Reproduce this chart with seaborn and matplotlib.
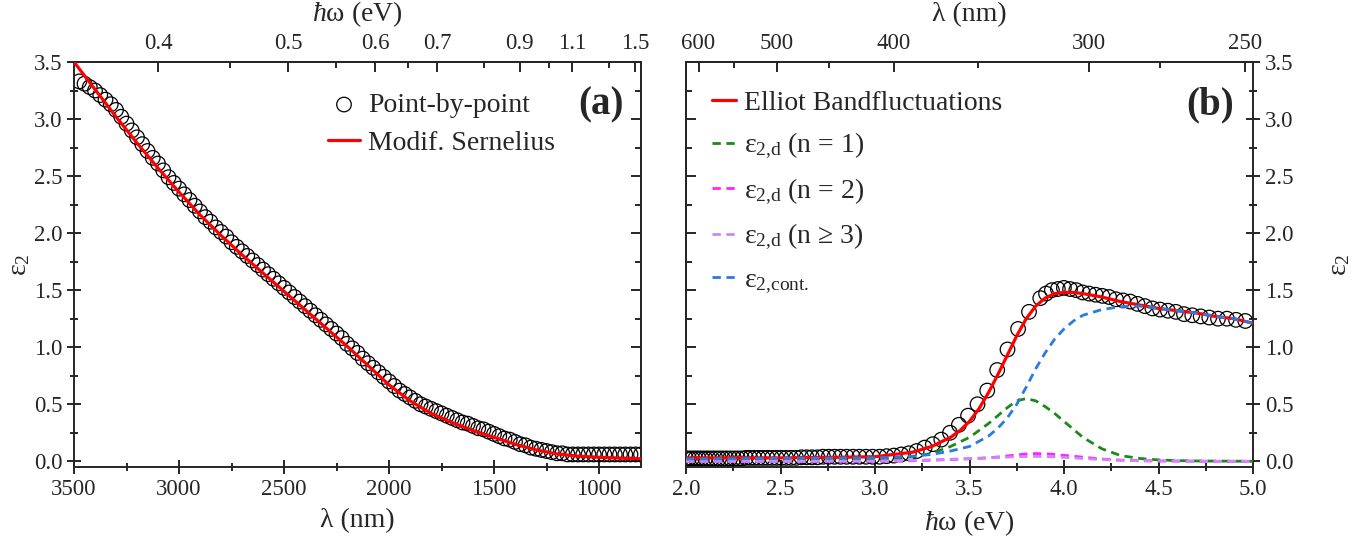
import numpy as np
import pandas as pd
import seaborn as sns
import matplotlib.pyplot as plt
from matplotlib.ticker import MultipleLocator, FixedLocator

# ---- panel (a): epsilon_2 vs wavelength ----
lam_pts = [3475, 3450, 3425, 3400, 3375, 3350, 3325, 3300, 3275, 3250,
           3225, 3200, 3175, 3150, 3125, 3100, 3075, 3050, 3025, 3000,
           2975, 2950, 2925, 2900, 2875, 2850, 2825, 2800, 2775, 2750,
           2725, 2700, 2675, 2650, 2625, 2600, 2575, 2550, 2525, 2500,
           2475, 2450, 2425, 2400, 2375, 2350, 2325, 2300, 2275, 2250,
           2225, 2200, 2175, 2150, 2125, 2100, 2075, 2050, 2025, 2000,
           1975, 1950, 1925, 1900, 1875, 1850, 1825, 1800, 1775, 1750,
           1725, 1700, 1675, 1650, 1625, 1600, 1575, 1550, 1525, 1500,
           1475, 1450, 1425, 1400, 1375, 1350, 1325, 1300, 1275, 1250,
           1225, 1200, 1175, 1150, 1125, 1100, 1075, 1050, 1025, 1000,
           975, 950, 925, 900, 875, 850, 825, 800]
eps_pts = [3.33, 3.31, 3.28, 3.25, 3.21, 3.17, 3.13, 3.08, 3.02, 2.96,
           2.90, 2.84, 2.78, 2.72, 2.66, 2.61, 2.55, 2.49, 2.44, 2.39,
           2.34, 2.29, 2.24, 2.19, 2.14, 2.10, 2.05, 2.01, 1.97, 1.92,
           1.88, 1.84, 1.80, 1.76, 1.72, 1.68, 1.64, 1.60, 1.56, 1.52,
           1.48, 1.44, 1.40, 1.36, 1.32, 1.28, 1.24, 1.20, 1.16, 1.12,
           1.08, 1.03, 0.99, 0.95, 0.90, 0.86, 0.82, 0.78, 0.74, 0.70,
           0.66, 0.62, 0.59, 0.56, 0.53, 0.50, 0.48, 0.46, 0.44, 0.42,
           0.40, 0.38, 0.36, 0.34, 0.33, 0.31, 0.29, 0.28, 0.26, 0.24,
           0.22, 0.20, 0.19, 0.17, 0.15, 0.14, 0.12, 0.11, 0.10, 0.09,
           0.08, 0.07, 0.07, 0.06, 0.06, 0.06, 0.06, 0.06, 0.06, 0.06,
           0.06, 0.06, 0.06, 0.06, 0.06, 0.06, 0.06, 0.06]

lam_fit = [3500, 3400, 3300, 3200, 3100, 3000, 2900, 2800, 2700, 2600,
           2500, 2400, 2300, 2200, 2100, 2000, 1900, 1800, 1700, 1600,
           1500, 1400, 1300, 1200, 1100, 1000, 900, 800]
eps_fit = [3.50, 3.26, 3.02, 2.79, 2.57, 2.36, 2.16, 1.98, 1.81, 1.65,
           1.49, 1.33, 1.17, 1.01, 0.84, 0.67, 0.53, 0.42, 0.34, 0.27,
           0.21, 0.15, 0.10, 0.065, 0.045, 0.035, 0.028, 0.022]

# ---- panel (b): epsilon_2 vs photon energy ----
wl_b = [620, 615, 610, 605, 600, 595, 590, 585, 580, 575,
        570, 565, 560, 555, 550, 545, 540, 535, 530, 525,
        520, 515, 510, 505, 500, 495, 490, 485, 480, 475,
        470, 465, 460, 455, 450, 445, 440, 435, 430, 425,
        420, 415, 410, 405, 400, 395, 390, 385, 380, 375,
        370, 365, 360, 355, 350, 345, 340, 335, 330, 325,
        320, 317.5, 315, 312.5, 310, 307.5, 305, 302.5, 300, 297.5,
        295, 292.5, 290, 287.5, 285, 282.5, 280, 277.5, 275, 272.5,
        270, 267.5, 265, 262.5, 260, 257.5, 255, 252.5, 250]
eps_b = [0.025, 0.025, 0.025, 0.025, 0.025, 0.025, 0.025, 0.025, 0.025, 0.025,
         0.025, 0.025, 0.025, 0.025, 0.025, 0.025, 0.025, 0.03, 0.03, 0.03,
         0.03, 0.03, 0.03, 0.03, 0.03, 0.03, 0.03, 0.03, 0.03, 0.035,
         0.035, 0.035, 0.035, 0.04, 0.04, 0.04, 0.04, 0.04, 0.04, 0.04,
         0.04, 0.04, 0.04, 0.045, 0.05, 0.06, 0.07, 0.09, 0.12, 0.15,
         0.19, 0.25, 0.32, 0.40, 0.50, 0.62, 0.80, 0.98, 1.16, 1.31,
         1.43, 1.47, 1.50, 1.51, 1.52, 1.51, 1.50, 1.48, 1.47, 1.46,
         1.45, 1.44, 1.42, 1.41, 1.40, 1.38, 1.36, 1.34, 1.33, 1.32,
         1.31, 1.29, 1.28, 1.27, 1.26, 1.25, 1.25, 1.24, 1.23]

E_fit = [2.0, 2.5, 2.8, 3.0, 3.1, 3.2, 3.3, 3.4, 3.45, 3.5,
         3.55, 3.6, 3.65, 3.7, 3.75, 3.8, 3.85, 3.9, 3.95, 4.0,
         4.05, 4.1, 4.2, 4.3, 4.4, 4.5, 4.6, 4.7, 4.8, 4.9, 5.0]
eps_elliot = [0.03, 0.03, 0.035, 0.04, 0.06, 0.08, 0.13, 0.21, 0.27, 0.35,
              0.46, 0.60, 0.76, 0.93, 1.10, 1.25, 1.36, 1.43, 1.47, 1.48,
              1.48, 1.47, 1.44, 1.40, 1.37, 1.34, 1.32, 1.30, 1.27, 1.25, 1.21]

E_comp = [2.0, 2.5, 3.0, 3.1, 3.2, 3.3, 3.4, 3.5, 3.6, 3.65,
          3.7, 3.75, 3.8, 3.85, 3.9, 3.95, 4.0, 4.05, 4.1, 4.2,
          4.3, 4.4, 4.5, 4.6, 4.7, 4.8, 4.9, 5.0]
eps_n1 = [0.0, 0.0, 0.01, 0.02, 0.04, 0.07, 0.13, 0.21, 0.33, 0.40,
          0.47, 0.53, 0.55, 0.53, 0.48, 0.42, 0.35, 0.28, 0.21, 0.11,
          0.05, 0.025, 0.012, 0.006, 0.003, 0.002, 0.001, 0.0]
eps_n2 = [0.0, 0.0, 0.0, 0.002, 0.005, 0.01, 0.015, 0.022, 0.03, 0.038,
          0.047, 0.056, 0.064, 0.068, 0.066, 0.06, 0.052, 0.044, 0.036, 0.02,
          0.01, 0.005, 0.003, 0.002, 0.001, 0.0, 0.0, 0.0]
eps_n3 = [0.0, 0.0, 0.002, 0.004, 0.008, 0.012, 0.018, 0.024, 0.03, 0.034,
          0.037, 0.04, 0.042, 0.043, 0.042, 0.039, 0.035, 0.03, 0.025, 0.015,
          0.009, 0.005, 0.003, 0.002, 0.001, 0.0, 0.0, 0.0]
eps_cont = [0.02, 0.025, 0.03, 0.035, 0.045, 0.06, 0.09, 0.13, 0.22, 0.29,
            0.38, 0.50, 0.65, 0.81, 0.95, 1.07, 1.16, 1.23, 1.28, 1.33,
            1.355, 1.36, 1.34, 1.32, 1.30, 1.27, 1.25, 1.21]

E_pts = [1239.84 / w for w in wl_b]


def conv(x):
    # eV <-> nm, same formula both ways
    x = np.asarray(x, dtype=float)
    with np.errstate(divide='ignore', invalid='ignore'):
        return 1239.84 / x


sns.set_style('ticks')
plt.rcParams['font.family'] = ['Liberation Serif', 'DejaVu Serif']
plt.rcParams['mathtext.fontset'] = 'custom'
plt.rcParams['mathtext.rm'] = 'Liberation Serif'
plt.rcParams['mathtext.it'] = 'Liberation Serif:italic'
plt.rcParams['mathtext.bf'] = 'Liberation Serif:bold'
plt.rcParams['axes.linewidth'] = 1.4

TS = 16.5   # tick label size
LS = 20     # axis label size

fig = plt.figure(figsize=(13.59, 5.37), dpi=100)
ax1 = fig.add_axes([74 / 1359, 1 - 467 / 537, 567 / 1359, 405 / 537])
ax2 = fig.add_axes([686 / 1359, 1 - 467 / 537, 567 / 1359, 405 / 537])

# ---------- (a) ----------
sns.scatterplot(x=lam_pts, y=eps_pts, ax=ax1, marker='o', s=110,
                facecolor='none', edgecolor='black', linewidth=0.9,
                label='Point-by-point', zorder=2)
sns.lineplot(x=lam_fit, y=eps_fit, ax=ax1, color='#ff0000', lw=2.3,
             label='Modif. Sernelius', zorder=3)

ax1.set_xlim(3500, 800)
ax1.set_ylim(-0.05, 3.5)
ax1.xaxis.set_major_locator(MultipleLocator(500))
ax1.xaxis.set_minor_locator(MultipleLocator(250))
ax1.yaxis.set_major_locator(MultipleLocator(0.5))
ax1.yaxis.set_minor_locator(MultipleLocator(0.25))
ax1.tick_params(which='both', direction='inout', width=1.4, labelsize=TS,
                top=False, right=False)
ax1.tick_params(which='major', length=10)
ax1.tick_params(which='minor', length=6)
ax1.set_xlabel('λ (nm)', fontsize=LS, labelpad=6)
ax1.set_ylabel(r'$\mathregular{ε_2}$', fontsize=LS, labelpad=1)

top1 = ax1.secondary_xaxis('top', functions=(conv, conv))
top1.set_xticks([0.4, 0.5, 0.6, 0.7, 0.9, 1.1, 1.5])
top1.set_xticklabels(['0.4', '0.5', '0.6', '0.7', '0.9', '1.1', '1.5'])
top1.xaxis.set_minor_locator(FixedLocator([0.45, 0.55, 0.65, 0.8, 1.0, 1.3]))
top1.tick_params(which='both', direction='in', width=1.4, labelsize=TS, pad=6)
top1.tick_params(which='major', length=7)
top1.tick_params(which='minor', length=4)
top1.set_xlabel(r'$\mathit{ħ}$ω (eV)', fontsize=LS, labelpad=8)

r1 = ax1.secondary_yaxis('right')
r1.yaxis.set_major_locator(MultipleLocator(0.5))
r1.yaxis.set_minor_locator(MultipleLocator(0.25))
r1.tick_params(which='both', direction='in', width=1.4, labelright=False)
r1.tick_params(which='major', length=7)
r1.tick_params(which='minor', length=4)

ax1.legend(loc='upper left', bbox_to_anchor=(0.448, 0.925), frameon=False,
           fontsize=LS, handlelength=1.15, handletextpad=0.3, borderpad=0,
           borderaxespad=0, labelspacing=0.45)
ax1.text(0.929, 0.895, '(a)', transform=ax1.transAxes, fontsize=28,
         fontweight='bold', ha='center', va='center')

# ---------- (b) ----------
sns.scatterplot(x=E_pts, y=eps_b, ax=ax2, marker='o', s=110,
                facecolor='none', edgecolor='black', linewidth=0.9, zorder=2)
sns.lineplot(x=E_fit, y=eps_elliot, ax=ax2, color='#ff0000', lw=2.3,
             label='Elliot Bandfluctuations', zorder=3)
sns.lineplot(x=E_comp, y=eps_n1, ax=ax2, color='#1a8a1a', lw=2.0,
             linestyle=(0, (3, 2)), label=r'$\mathregular{ε_{2{,}d}}$ (n = 1)', zorder=4)
sns.lineplot(x=E_comp, y=eps_n2, ax=ax2, color='#ff22ff', lw=2.0,
             linestyle=(0, (3, 2)), label=r'$\mathregular{ε_{2{,}d}}$ (n = 2)', zorder=4)
sns.lineplot(x=E_comp, y=eps_n3, ax=ax2, color='#c98af5', lw=2.0,
             linestyle=(0, (3, 2)), label=r'$\mathregular{ε_{2{,}d}}$ (n ≥ 3)', zorder=4)
sns.lineplot(x=E_comp, y=eps_cont, ax=ax2, color='#2a7ae0', lw=2.0,
             linestyle=(0, (3, 2)), label=r'$\mathregular{ε_{2{,}cont.}}$', zorder=5)

ax2.set_xlim(2.0, 5.0)
ax2.set_ylim(-0.05, 3.5)
ax2.xaxis.set_major_locator(MultipleLocator(0.5))
ax2.xaxis.set_minor_locator(MultipleLocator(0.25))
ax2.yaxis.set_major_locator(MultipleLocator(0.5))
ax2.yaxis.set_minor_locator(MultipleLocator(0.25))
ax2.yaxis.tick_right()
ax2.yaxis.set_label_position('right')
ax2.tick_params(which='both', direction='inout', width=1.4, labelsize=TS,
                top=False, left=False, labelleft=False, right=True, labelright=True)
ax2.tick_params(which='major', length=10)
ax2.tick_params(which='minor', length=6)
ax2.set_xlabel(r'$\mathit{ħ}$ω (eV)', fontsize=LS, labelpad=6)
ax2.set_ylabel(r'$\mathregular{ε_2}$', fontsize=LS, labelpad=24, rotation=90)

top2 = ax2.secondary_xaxis('top', functions=(conv, conv))
top2.set_xticks([600, 500, 400, 300, 250])
top2.set_xticklabels(['600', '500', '400', '300', '250'])
top2.xaxis.set_minor_locator(FixedLocator([550, 450, 350, 275]))
top2.tick_params(which='both', direction='in', width=1.4, labelsize=TS, pad=6)
top2.tick_params(which='major', length=7)
top2.tick_params(which='minor', length=4)
top2.set_xlabel('λ (nm)', fontsize=LS, labelpad=8)

l2 = ax2.secondary_yaxis('left')
l2.yaxis.set_major_locator(MultipleLocator(0.5))
l2.yaxis.set_minor_locator(MultipleLocator(0.25))
l2.tick_params(which='both', direction='in', width=1.4, labelleft=False)
l2.tick_params(which='major', length=7)
l2.tick_params(which='minor', length=4)

ax2.legend(loc='upper left', bbox_to_anchor=(0.046, 0.93), frameon=False,
           fontsize=LS, handlelength=0.85, handletextpad=0.3, borderpad=0,
           borderaxespad=0, labelspacing=0.55)
ax2.text(0.924, 0.895, '(b)', transform=ax2.transAxes, fontsize=28,
         fontweight='bold', ha='center', va='center')

fig.savefig('out.png', dpi=100)
